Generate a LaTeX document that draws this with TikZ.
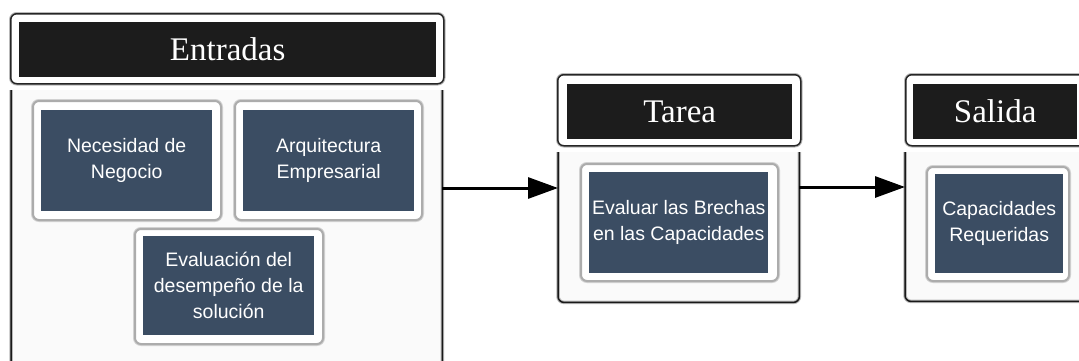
\documentclass[tikz,border=0pt]{standalone}
\usepackage{fontspec}
\setmainfont{Liberation Serif}
\setsansfont{Liberation Sans}
\usetikzlibrary{arrows.meta}
\definecolor{boxblue}{HTML}{3B4D63}
\definecolor{hdrblack}{HTML}{1C1C1C}
\definecolor{bodyfill}{HTML}{FAFAFA}
\tikzset{
  hdrframe/.style={draw=black!85, line width=1.5pt, rounded corners=6pt, fill=white, inner sep=0pt,
    preaction={draw=gray!55, line width=3.5pt}},
  hdrfill/.style={fill=hdrblack, inner sep=0pt, text=white, font=\fontsize{33}{36}\selectfont},
  bodybox/.style={fill=bodyfill, inner sep=0pt},
  bodyline/.style={draw=black!90, line width=1.5pt, rounded corners=6pt,
    preaction={draw=gray!55, line width=3.5pt}},
  itemframe/.style={draw=gray!65, line width=2pt, rounded corners=6pt, fill=white, inner sep=0pt,
    preaction={draw=gray!35, line width=4pt}},
  itemfill/.style={fill=boxblue, inner sep=0pt, text=white, align=center,
    font=\sffamily\fontsize{19.5}{26}\selectfont},
  flow/.style={line width=3pt, -{Triangle[length=30pt,width=21pt]}},
}
\newcommand{\boxat}[6]{% name, x1, y1, x2, y2, style
  \node[#6, anchor=north west, minimum width=#4pt-#2pt, minimum height=#5pt-#3pt] (#1) at (#2,#3) {};}
\begin{document}
\begin{tikzpicture}[x=1pt,y=-1pt]
\useasboundingbox (0,0) rectangle (1079,360);
\clip (0,0) rectangle (1079,360);
\fill[white] (0,0) rectangle (1079,360);

% ---------- Entradas ----------
\boxat{entbody}{11}{90}{442}{380}{bodybox}
\draw[bodyline] (entbody.north west) -- (entbody.south west) -- (entbody.south east) -- (entbody.north east);
\boxat{enthdr}{10}{13}{443}{83}{hdrframe}
\node[hdrfill, anchor=north west, minimum width=417pt, minimum height=55pt] (enttitle) at (19,22) {Entradas};

\boxat{necframe}{32}{100}{220}{219}{itemframe}
\node[itemfill, anchor=north west, minimum width=171pt, minimum height=101pt] (nec) at (41,110) {Necesidad de\\Negocio};
\boxat{arqframe}{234}{100}{421}{219}{itemframe}
\node[itemfill, anchor=north west, minimum width=171pt, minimum height=101pt] (arq) at (243,110) {Arquitectura\\Empresarial};
\boxat{evaframe}{134}{228}{322}{343}{itemframe}
\node[itemfill, anchor=north west, minimum width=171pt, minimum height=99pt] (eva) at (143,236) {Evaluación del\\desempeño de la\\solución};

% ---------- Tarea ----------
\boxat{tarbody}{558}{152}{799}{302}{bodybox}
\draw[bodyline] (tarbody.north west) -- (tarbody.south west) -- (tarbody.south east) -- (tarbody.north east);
\boxat{tarhdr}{557}{74}{800}{145}{hdrframe}
\node[hdrfill, anchor=north west, minimum width=225pt, minimum height=55pt] (tartitle) at (567,84) {Tarea};
\boxat{tarframe}{580}{163}{777}{280}{itemframe}
\node[itemfill, anchor=north west, minimum width=179pt, minimum height=101pt] (tar) at (589,172) {Evaluar las Brechas\\en las Capacidades};

% ---------- Salida ----------
\boxat{salbody}{905}{152}{1110}{301}{bodybox}
\draw[bodyline] (salbody.north west) -- (salbody.south west) -- (salbody.south east) -- (salbody.north east);
\boxat{salhdr}{905}{74}{1085}{145}{hdrframe}
\node[hdrfill, anchor=north west, minimum width=164pt, minimum height=55pt] (saltitle) at (913,84) {Salida};
\boxat{salframe}{926}{166}{1068}{280}{itemframe}
\node[itemfill, anchor=north west, minimum width=128pt, minimum height=99pt] (sal) at (935,174) {Capacidades\\Requeridas};

% ---------- connectors ----------
\draw[flow] (entbody.east |- 0,188) -- (tarbody.west |- 0,188);
\draw[flow] (tarbody.east |- 0,187) -- (salbody.west |- 0,187);
\end{tikzpicture}
\end{document}
